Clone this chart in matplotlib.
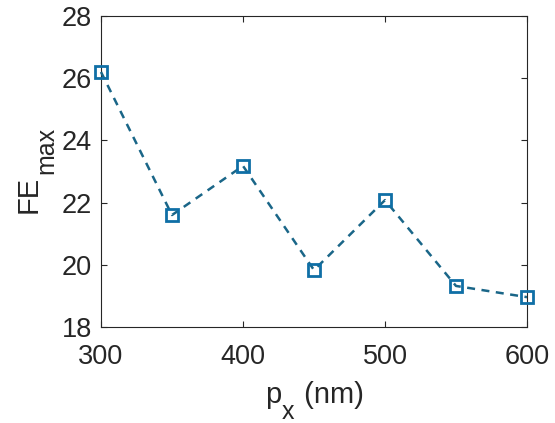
import matplotlib
matplotlib.use("Agg")
import matplotlib.pyplot as plt

plt.rcParams["font.family"] = ["Liberation Sans", "DejaVu Sans"]

LINE_COLOR = "#1a6688"
MARK_COLOR = "#0f6fa6"
TXT = "#262626"
W, H = 555, 423

px = [300, 350, 400, 450, 500, 550, 600]
fe_max = [26.2, 21.6, 23.18, 19.83, 22.08, 19.32, 18.96]

xticks = [300, 400, 500, 600]
yticks = [18, 20, 22, 24, 26, 28]

fig = plt.figure(figsize=(W / 100, H / 100), dpi=100)
ax = fig.add_axes([101 / W, 1 - 327 / H, 426 / W, 311 / H])

ax.plot(px, fe_max, c=LINE_COLOR, lw=1.8, ls=(0, (3.2, 2.6)),
        marker="s", markersize=9, fillstyle="none",
        markeredgewidth=2, markeredgecolor=MARK_COLOR, clip_on=False, zorder=5)

ax.set_xlim(300, 600)
ax.set_ylim(18, 28)
ax.set_xticks(xticks)
ax.set_yticks(yticks)
ax.tick_params(direction="in", length=4.5, width=0.8, labelsize=19.5,
               colors=TXT, top=True, right=True)
ax.tick_params(axis="x", pad=12)
ax.tick_params(axis="y", pad=6.5)
for s in ax.spines.values():
    s.set_color(TXT)
    s.set_linewidth(0.8)


# axis labels with large MATLAB-style subscripts, placed by pixel (from top-left)
def put(x, y, s, size, rot=0):
    fig.text(x / W, 1 - y / H, s, fontsize=size, color=TXT, rotation=rot,
             rotation_mode="anchor", ha="left", va="baseline")


put(265, 403, "p", 21)
put(282, 419, "x", 18)
put(296, 403, " (nm)", 21)

put(37, 213, "FE", 21, rot=90)
put(53, 174, "max", 18, rot=90)

fig.savefig("out.png", dpi=100)
